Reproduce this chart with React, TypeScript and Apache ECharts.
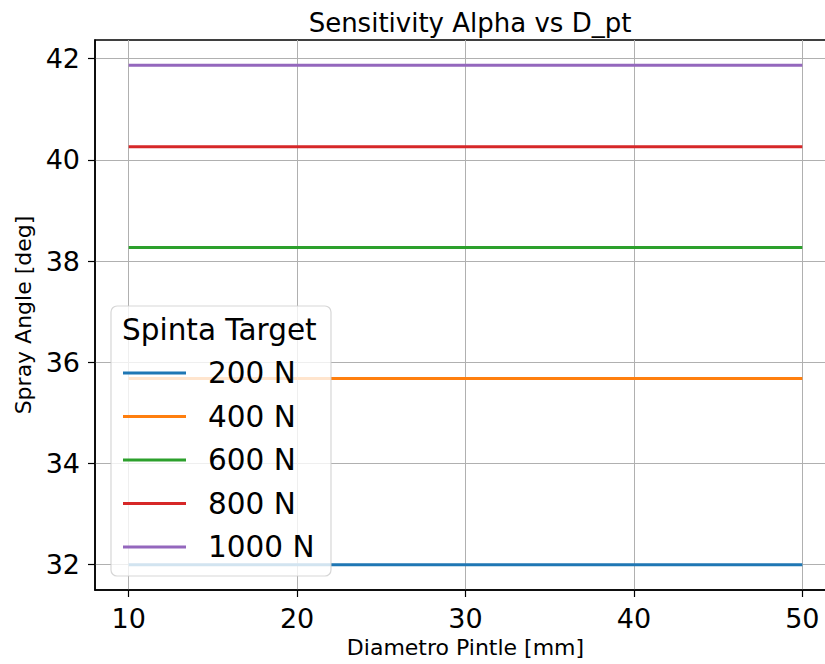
import React, { useEffect, useRef } from "react";
import * as echarts from "echarts";

const xValues = [10, 20, 30, 40, 50];
const seriesNames = ["200 N", "400 N", "600 N", "800 N", "1000 N"];
const angle200 = [32.0, 32.0, 32.0, 32.0, 32.0];
const angle400 = [35.68, 35.68, 35.68, 35.68, 35.68];
const angle600 = [38.27, 38.27, 38.27, 38.27, 38.27];
const angle800 = [40.26, 40.26, 40.26, 40.26, 40.26];
const angle1000 = [41.87, 41.87, 41.87, 41.87, 41.87];
const seriesValues = [angle200, angle400, angle600, angle800, angle1000];
const colors = ["#1f77b4", "#ff7f0e", "#2ca02c", "#d62728", "#9467bd"];
const xTicks = [10, 20, 30, 40, 50];
const yTicks = [32, 34, 36, 38, 40, 42];

const FONT = "DejaVu Sans";

export default function App() {
  const ref = useRef<HTMLDivElement>(null);
  useEffect(() => {
    if (!ref.current) return;
    const chart = echarts.init(ref.current, undefined, { renderer: "svg" });
    chart.setOption({
      animation: false,
      backgroundColor: "#ffffff",
      textStyle: { fontFamily: FONT },
      title: {
        text: "Sensitivity Alpha vs D_pt",
        left: 465,
        textAlign: "center",
        top: 5,
        textStyle: { fontFamily: FONT, fontSize: 26, fontWeight: "normal", color: "#000" },
      },
      grid: {
        left: 95,
        top: 40,
        width: 741,
        height: 550,
        outerBoundsMode: "none",
        containLabel: false,
        show: true,
        borderColor: "#000",
        borderWidth: 1.5,
        backgroundColor: "transparent",
      },
      xAxis: {
        type: "value",
        min: 8,
        max: 52,
        name: "Diametro Pintle [mm]",
        nameLocation: "middle",
        nameGap: 46,
        nameTextStyle: { fontFamily: FONT, fontSize: 22, color: "#000" },
        axisLine: { show: true, lineStyle: { color: "#000", width: 1.5 } },
        axisTick: { show: true, length: 7, lineStyle: { color: "#000", width: 1.2 }, customValues: xTicks },
        axisLabel: { customValues: xTicks, fontFamily: FONT, fontSize: 27, color: "#000", margin: 15 },
        splitLine: { show: true, lineStyle: { color: "#b0b0b0", width: 1 } },
      },
      yAxis: {
        type: "value",
        min: 31.5,
        max: 42.37,
        name: "Spray Angle [deg]",
        nameLocation: "middle",
        nameGap: 55,
        nameTextStyle: { fontFamily: FONT, fontSize: 22, color: "#000" },
        axisLine: { show: true, lineStyle: { color: "#000", width: 1.5 } },
        axisTick: { show: true, length: 7, lineStyle: { color: "#000", width: 1.2 }, customValues: yTicks },
        axisLabel: { customValues: yTicks, fontFamily: FONT, fontSize: 27, color: "#000", margin: 15 },
        splitLine: { show: true, lineStyle: { color: "#b0b0b0", width: 1 } },
      },
      legend: {
        data: seriesNames,
        orient: "vertical",
        left: 123,
        top: 358,
        padding: 0,
        itemWidth: 63,
        itemHeight: 3,
        itemGap: 13.5,
        icon: "rect",
        z: 10,
        textStyle: {
          fontFamily: FONT,
          fontSize: 29.5,
          color: "#000",
          lineHeight: 30,
          padding: [0, 0, 0, 17],
        },
      },
      graphic: [
        {
          type: "rect",
          z: 8,
          shape: { x: 111, y: 306, width: 220, height: 270, r: 6 },
          style: { fill: "rgba(255,255,255,0.8)", stroke: "rgba(204,204,204,0.8)", lineWidth: 1.2 },
        },
        {
          type: "text",
          z: 9,
          x: 122,
          y: 330,
          style: {
            text: "Spinta Target",
            fontFamily: FONT,
            fontSize: 29.5,
            fill: "#000",
            verticalAlign: "middle",
          },
        },
      ],
      series: seriesNames.map((name, i) => ({
        name,
        type: "line",
        data: xValues.map((x, j) => [x, seriesValues[i][j]]),
        showSymbol: false,
        symbol: "none",
        lineStyle: { color: colors[i], width: 3 },
        itemStyle: { color: colors[i] },
        z: 2,
      })),
    });
    return () => chart.dispose();
  }, []);
  return (
    <div style={{ position: "absolute", left: 0, top: 0, width: 825, height: 664, overflow: "hidden", background: "#fff" }}>
      <div ref={ref} style={{ width: 860, height: 664 }} />
    </div>
  );
}
